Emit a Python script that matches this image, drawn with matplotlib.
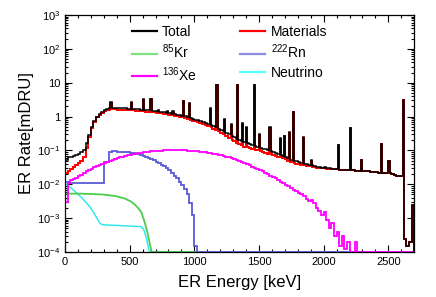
import matplotlib
matplotlib.use('Agg')
import matplotlib.pyplot as plt
import numpy as np
from matplotlib.lines import Line2D
from matplotlib.ticker import MultipleLocator, FuncFormatter, LogLocator, NullFormatter

plt.rcParams['font.family'] = ['Liberation Sans', 'DejaVu Sans']
plt.rcParams['mathtext.fontset'] = 'custom'
plt.rcParams['mathtext.rm'] = 'Liberation Sans'
plt.rcParams['mathtext.it'] = 'Liberation Sans:italic'

# 20 keV bins, 0 - 2700 keV
bin_edges = np.arange(0, 2701, 20)

# materials continuum (mDRU), one value per bin
materials_cont = [
    0.022, 0.025, 0.028, 0.032, 0.036,
    0.042, 0.05, 0.065, 0.12, 0.25,
    0.45, 0.70, 0.95, 1.15, 1.3,
    1.45, 1.55, 1.6, 1.62, 1.62,
    1.6, 1.6, 1.58, 1.57, 1.55,
    1.53, 1.52, 1.5, 1.48, 1.45,
    1.43, 1.4, 1.37, 1.35, 1.32,
    1.3, 1.27, 1.24, 1.2, 1.17,
    1.13, 1.1, 1.06, 1.02, 0.98,
    0.94, 0.9, 0.85, 0.8, 0.76,
    0.72, 0.68, 0.64, 0.6, 0.56,
    0.52, 0.48, 0.44, 0.4, 0.37,
    0.33, 0.3, 0.27, 0.24, 0.21,
    0.19, 0.17, 0.155, 0.14, 0.13,
    0.125, 0.118, 0.11, 0.105, 0.1,
    0.095, 0.09, 0.085, 0.08, 0.076,
    0.072, 0.068, 0.065, 0.062, 0.058,
    0.055, 0.05, 0.046, 0.043, 0.041,
    0.04, 0.038, 0.036, 0.035, 0.034,
    0.033, 0.032, 0.031, 0.031, 0.030,
    0.030, 0.029, 0.029, 0.028, 0.028,
    0.028, 0.027, 0.027, 0.027, 0.026,
    0.026, 0.026, 0.025, 0.025, 0.025,
    0.024, 0.024, 0.024, 0.023, 0.023,
    0.023, 0.022, 0.022, 0.022, 0.021,
    0.021, 0.020, 0.019, 0.018, 0.018,
    0.018, 0.00025, 0.00015, 0.0002, 0.0025,
]

# gamma lines from materials (10 keV wide)
peak_energy = [352, 511, 609, 662, 727, 795, 838, 911, 969, 1120, 1173, 1238, 1280,
               1332, 1377, 1408, 1461, 1509, 1588, 1661, 1690, 1730, 1764, 1847,
               1900, 2118, 2204, 2293, 2448, 2500, 2614]
peak_rate = [2.5, 2.5, 3.1, 3.2, 1.45, 1.35, 1.3, 2.8, 2.4, 1.7, 8.7, 0.8, 0.55,
             8.7, 0.6, 0.45, 8.3, 0.29, 0.46, 0.22, 0.26, 0.33, 1.35, 0.24,
             0.05, 0.14, 0.46, 0.052, 0.15, 0.05, 3.0]

kr85 = [
    0.0053, 0.0053, 0.0053, 0.0053, 0.0053,
    0.0053, 0.0053, 0.0052, 0.0052, 0.0052,
    0.0052, 0.0051, 0.0051, 0.0050, 0.0050,
    0.0049, 0.0048, 0.0047, 0.0046, 0.0045,
    0.0043, 0.0041, 0.0039, 0.0037, 0.0034,
    0.0031, 0.0027, 0.0023, 0.0019, 0.0015,
    0.0009, 0.0005, 0.00022, 0.00005,
]

rn222 = [
    0.012, 0.012, 0.011, 0.011, 0.011,
    0.011, 0.011, 0.011, 0.011, 0.011,
    0.011, 0.011, 0.011, 0.011, 0.011,
    0.047, 0.047, 0.090, 0.093, 0.093,
    0.092, 0.091, 0.090, 0.089, 0.087,
    0.085, 0.082, 0.079, 0.076, 0.072,
    0.068, 0.064, 0.060, 0.056, 0.052,
    0.047, 0.043, 0.038, 0.034, 0.030,
    0.026, 0.022, 0.018, 0.015, 0.012,
    0.0095, 0.0072, 0.0050, 0.0028, 0.0012,
    0.00015,
]

xe136 = [
    0.003, 0.011, 0.013, 0.014, 0.015,
    0.017, 0.019, 0.022, 0.025, 0.027,
    0.029, 0.032, 0.034, 0.037, 0.040,
    0.043, 0.046, 0.050, 0.053, 0.056,
    0.060, 0.063, 0.066, 0.069, 0.072,
    0.075, 0.078, 0.080, 0.083, 0.085,
    0.088, 0.090, 0.092, 0.094, 0.095,
    0.097, 0.098, 0.099, 0.100, 0.101,
    0.101, 0.102, 0.101, 0.102, 0.101,
    0.100, 0.100, 0.099, 0.098, 0.097,
    0.095, 0.093, 0.091, 0.089, 0.087,
    0.085, 0.082, 0.080, 0.077, 0.074,
    0.071, 0.068, 0.065, 0.062, 0.059,
    0.056, 0.052, 0.049, 0.046, 0.042,
    0.039, 0.036, 0.033, 0.031, 0.028,
    0.026, 0.024, 0.022, 0.020, 0.018,
    0.016, 0.015, 0.013, 0.012, 0.011,
    0.0095, 0.0088, 0.0078, 0.0070, 0.0062,
    0.0056, 0.0050, 0.0044, 0.0038, 0.0032,
    0.0034, 0.0028, 0.0020, 0.0016, 0.0012,
    0.0015, 0.0009, 0.0005, 0.0007, 0.0003,
    0.0004, 0.00015, 0.0003, 0.00012, 0.0002,
    0.0, 0.0, 0.0002,
]

neutrino = [
    0.0100, 0.0088, 0.0076, 0.0065, 0.0056,
    0.0047, 0.0040, 0.0033, 0.0027, 0.0022,
    0.0017, 0.0013, 0.00095, 0.00070, 0.00064,
    0.00063, 0.00063, 0.00062, 0.00062, 0.00061,
    0.00061, 0.00060, 0.00060, 0.00059, 0.00059,
    0.00058, 0.00058, 0.00057, 0.00057, 0.00056,
    0.00045, 0.00025, 0.00011,
]

nbins = len(bin_edges) - 1


def full(v):
    out = np.zeros(nbins)
    out[:len(v)] = v
    return out


kr = full(kr85)
rn = full(rn222)
xe = full(xe136)
nu = full(neutrino)

# materials and total on 10 keV sub-bins so the gamma lines stay narrow
fine_edges = np.arange(0, 2701, 10)
materials = np.repeat(np.array(materials_cont, dtype=float), 2)
for e, r in zip(peak_energy, peak_rate):
    materials[np.searchsorted(fine_edges, e, side='right') - 1] = r
total = materials + np.repeat(kr + rn + xe + nu, 2)

ymin, ymax = 1e-4, 1e3
fl = lambda v: np.maximum(v, ymin)

fig = plt.figure(figsize=(4.36, 2.97), dpi=100)
ax = fig.add_axes([0.149, 0.1515, 0.801, 0.798])
ax.set_yscale('log')

centers = 0.5 * (bin_edges[:-1] + bin_edges[1:])
ax.plot(centers, fl(nu), color='#22e8ee', lw=1.0, zorder=2)
ax.plot(centers, fl(kr), color='#4ccc4c', lw=1.3, zorder=2)
ax.stairs(fl(rn), bin_edges, color='#5a5ad8', lw=1.3, zorder=3)
ax.stairs(fl(xe), bin_edges, color='#ff00ff', lw=1.3, zorder=4)
ax.stairs(fl(materials), fine_edges, color='#ff0000', lw=1.4, zorder=5)
ax.stairs(fl(total), fine_edges, color='black', lw=1.1, zorder=6)

ax.set_xlim(0, 2700)
ax.set_ylim(ymin, ymax)

ax.xaxis.set_major_locator(MultipleLocator(500))
ax.xaxis.set_minor_locator(MultipleLocator(100))
ax.yaxis.set_major_locator(LogLocator(base=10, numticks=20))
ax.yaxis.set_minor_locator(LogLocator(base=10, subs=np.arange(2, 10), numticks=20))
ax.yaxis.set_minor_formatter(NullFormatter())


def yfmt(v, pos):
    n = int(round(np.log10(v)))
    if n == 0:
        return '1'
    if n == 1:
        return '10'
    return '$10^{%d}$' % n


ax.yaxis.set_major_formatter(FuncFormatter(yfmt))
ax.tick_params(which='both', direction='in', top=True, right=True, labelsize=8, width=0.8)
ax.tick_params(which='major', length=5)
ax.tick_params(which='minor', length=2.5)
for s in ax.spines.values():
    s.set_linewidth(0.9)

ax.set_xlabel('ER Energy [keV]', fontsize=12, labelpad=6)
ax.set_ylabel('ER Rate[mDRU]', fontsize=12, labelpad=2)

# legend filled column by column: left column Total, Kr, Xe; right column Materials, Rn, Neutrino
leg_labels = ['Total', '$^{85}$Kr', '$^{136}$Xe', 'Materials', '$^{222}$Rn', 'Neutrino']
leg_colors = ['black', '#80e080', '#ff00ff', '#ff0000', '#8c8ce0', '#55ffff']
handles = [Line2D([], [], color=c, lw=1.6) for c in leg_colors]
ax.legend(handles, leg_labels, ncol=2, frameon=False, fontsize=10, loc='upper left',
          bbox_to_anchor=(0.163, 1.0), handlelength=1.8, handletextpad=0.4,
          columnspacing=3.1, labelspacing=0.3, borderpad=0.2)

fig.savefig('out.png', dpi=100)
